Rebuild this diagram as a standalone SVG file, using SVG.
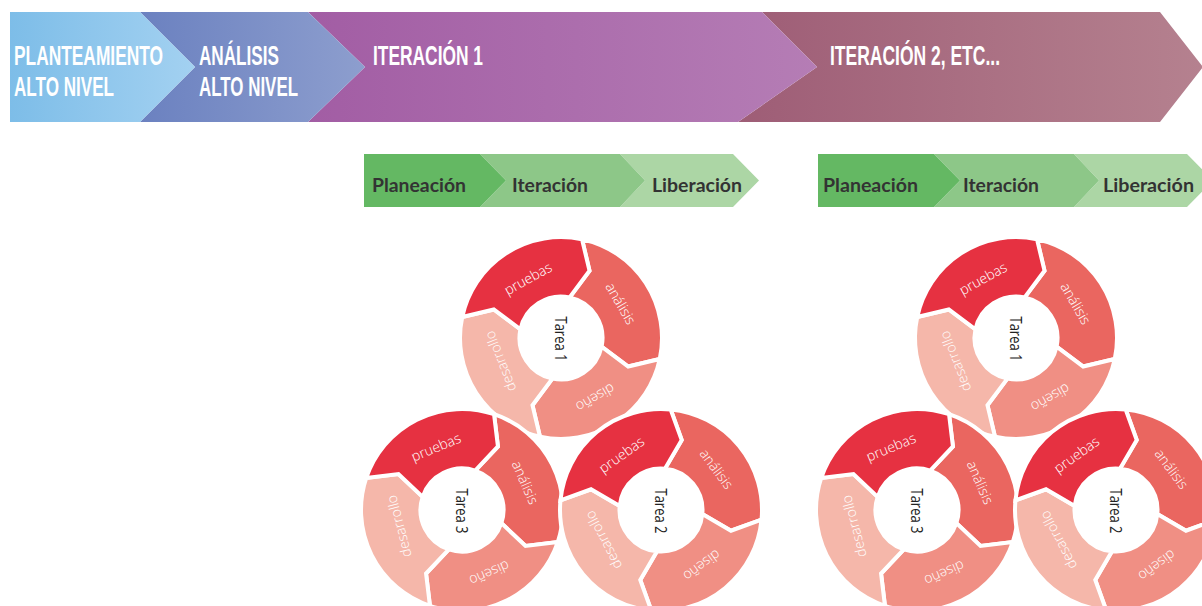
<svg xmlns="http://www.w3.org/2000/svg" xmlns:xlink="http://www.w3.org/1999/xlink" width="1202" height="606" viewBox="0 0 1202 606">
<style>
.bt{font-family:"Liberation Sans",Arial,sans-serif;font-weight:700;font-size:28px;fill:#fff}
.gt{font-family:Lato,"Open Sans",sans-serif;font-weight:700;font-size:19px;fill:#333}
.tt{font-family:"Open Sans","Noto Sans",sans-serif;font-weight:400;font-size:16px;fill:#222;text-anchor:middle}
.g1{fill:#64b863}.g2{fill:#8dc788}.g3{fill:#acd6a5}
</style>
<defs>
<linearGradient id="b1" gradientUnits="userSpaceOnUse" x1="10" y1="0" x2="195" y2="0"><stop offset="0" stop-color="#7dbde8"/><stop offset="1" stop-color="#a3d1f1"/></linearGradient>
<linearGradient id="b2" gradientUnits="userSpaceOnUse" x1="140" y1="0" x2="365" y2="0"><stop offset="0" stop-color="#6b81c0"/><stop offset="1" stop-color="#8d9ece"/></linearGradient>
<linearGradient id="b3" gradientUnits="userSpaceOnUse" x1="308" y1="0" x2="817" y2="0"><stop offset="0" stop-color="#a25da4"/><stop offset="1" stop-color="#b57db5"/></linearGradient>
<linearGradient id="b4" gradientUnits="userSpaceOnUse" x1="738" y1="0" x2="1202" y2="0"><stop offset="0" stop-color="#9e5d76"/><stop offset="1" stop-color="#b5818f"/></linearGradient>
<path id="seg" d="M101,0 A101,101 0 0 1 0,101 L-13.93,71.66 L0,41.5 A41.5,41.5 0 0 0 41.5,0 L71.66,13.93 Z" stroke="#fff" stroke-width="4" stroke-linejoin="miter"/>
<g id="ring">
<use xlink:href="#seg" href="#seg" fill="#ea6660"/>
<use xlink:href="#seg" href="#seg" transform="rotate(90)" fill="#f08f84"/>
<use xlink:href="#seg" href="#seg" transform="rotate(180)" fill="#f5b7aa"/>
<use xlink:href="#seg" href="#seg" transform="rotate(270)" fill="#e63141"/>
<g font-family="'Open Sans','Noto Sans',sans-serif" font-weight="300" font-size="14" fill="#fff" text-anchor="middle">
<text transform="rotate(48) translate(69 0) rotate(90)" y="5">análisis</text>
<text transform="rotate(138) translate(69 0) rotate(90)" y="5">diseño</text>
<text transform="rotate(237) translate(65 0) rotate(90)" y="5">desarrollo</text>
<text transform="rotate(319) translate(68 0) rotate(90)" y="5">pruebas</text>
</g>
</g>
</defs>

<g id="banner">
<g id="iteracion2"><polygon points="762,12 1160,12 1203,67 1160,122 738,122 817,67" fill="url(#b4)"/><text class="bt" transform="translate(830 65) scale(0.61 1)" textLength="278.7" lengthAdjust="spacingAndGlyphs">ITERACIÓN 2, ETC...</text></g>
<g id="iteracion1"><polygon points="308,12 762,12 817,67 738,122 308,122 365,67" fill="url(#b3)"/><text class="bt" transform="translate(373 65) scale(0.61 1)" textLength="180.3" lengthAdjust="spacingAndGlyphs">ITERACIÓN 1</text></g>
<g id="analisis"><polygon points="140,12 308,12 365,67 308,122 140,122 195,67" fill="url(#b2)"/><text class="bt" transform="translate(199 64.5) scale(0.61 1)" textLength="131.1" lengthAdjust="spacingAndGlyphs">ANÁLISIS</text><text class="bt" transform="translate(199 96) scale(0.61 1)" textLength="162.3" lengthAdjust="spacingAndGlyphs">ALTO NIVEL</text></g>
<g id="planteamiento"><polygon points="10,12 140,12 195,67 140,122 10,122" fill="url(#b1)"/><text class="bt" transform="translate(14 64.5) scale(0.61 1)" textLength="244.3" lengthAdjust="spacingAndGlyphs">PLANTEAMIENTO</text><text class="bt" transform="translate(14 96) scale(0.61 1)" textLength="163.9" lengthAdjust="spacingAndGlyphs">ALTO NIVEL</text></g>
</g>

<g id="fases1">
<g id="f1-liberacion"><polygon class="g3" points="620,154 733,154 759,180.5 733,207 620,207 645,180.5"/><text class="gt" x="652" y="192" textLength="90" lengthAdjust="spacingAndGlyphs">Liberación</text></g>
<g id="f1-iteracion"><polygon class="g2" points="480,154 620,154 645,180.5 620,207 480,207 506,180.5"/><text class="gt" x="512" y="192" textLength="76" lengthAdjust="spacingAndGlyphs">Iteración</text></g>
<g id="f1-planeacion"><polygon class="g1" points="364,154 480,154 506,180.5 480,207 364,207"/><text class="gt" x="372" y="192" textLength="94" lengthAdjust="spacingAndGlyphs">Planeación</text></g>
</g>
<g id="fases2">
<g id="f2-liberacion"><polygon class="g3" points="1074,154 1187,154 1213,180.5 1187,207 1074,207 1099,180.5"/><text class="gt" x="1103" y="192" textLength="91" lengthAdjust="spacingAndGlyphs">Liberación</text></g>
<g id="f2-iteracion"><polygon class="g2" points="934,154 1074,154 1099,180.5 1074,207 934,207 960,180.5"/><text class="gt" x="963" y="192" textLength="76" lengthAdjust="spacingAndGlyphs">Iteración</text></g>
<g id="f2-planeacion"><polygon class="g1" points="818,154 934,154 960,180.5 934,207 818,207"/><text class="gt" x="823" y="192" textLength="95" lengthAdjust="spacingAndGlyphs">Planeación</text></g>
</g>

<g id="ciclos1">
<g id="c1-tarea1"><use xlink:href="#ring" href="#ring" transform="translate(561 338) rotate(-78)"/><text class="tt" transform="translate(561 339) rotate(90)" y="6" textLength="45" lengthAdjust="spacingAndGlyphs">Tarea 1</text></g>
<g id="c1-tarea3"><use xlink:href="#ring" href="#ring" transform="translate(462 510) rotate(-71.5)"/><text class="tt" transform="translate(462 511) rotate(90)" y="6" textLength="45" lengthAdjust="spacingAndGlyphs">Tarea 3</text></g>
<g id="c1-tarea2"><use xlink:href="#ring" href="#ring" transform="translate(661 510) rotate(-84.5)"/><text class="tt" transform="translate(661 511) rotate(90)" y="6" textLength="45" lengthAdjust="spacingAndGlyphs">Tarea 2</text></g>
</g>
<g id="ciclos2">
<g id="c2-tarea1"><use xlink:href="#ring" href="#ring" transform="translate(1016 338) rotate(-78)"/><text class="tt" transform="translate(1016 339) rotate(90)" y="6" textLength="45" lengthAdjust="spacingAndGlyphs">Tarea 1</text></g>
<g id="c2-tarea3"><use xlink:href="#ring" href="#ring" transform="translate(917 510) rotate(-71.5)"/><text class="tt" transform="translate(917 511) rotate(90)" y="6" textLength="45" lengthAdjust="spacingAndGlyphs">Tarea 3</text></g>
<g id="c2-tarea2"><use xlink:href="#ring" href="#ring" transform="translate(1116 510) rotate(-84.5)"/><text class="tt" transform="translate(1116 511) rotate(90)" y="6" textLength="45" lengthAdjust="spacingAndGlyphs">Tarea 2</text></g>
</g>
<g id="connectors"/>
</svg>
